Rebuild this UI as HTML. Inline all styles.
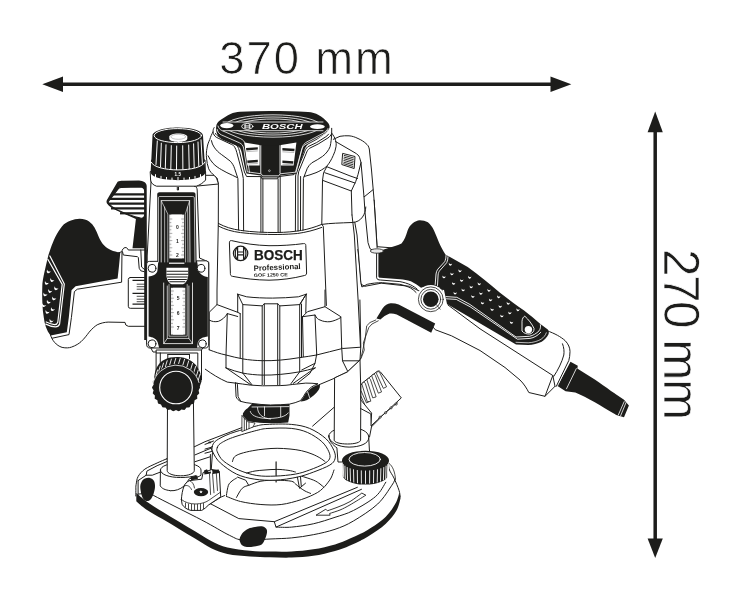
<!DOCTYPE html>
<html><head><meta charset="utf-8">
<style>
html,body{margin:0;padding:0;background:#fff;}
svg{display:block;}
text{font-family:"Liberation Sans",sans-serif;fill:#1d1d1b;}
.k{fill:#1d1d1b;stroke:none;}
.ks{fill:#1d1d1b;stroke:#1d1d1b;stroke-width:1;stroke-linejoin:round;}
.w{fill:#fff;stroke:#1d1d1b;stroke-width:1;stroke-linejoin:round;stroke-linecap:round;}
.wf{fill:#fff;stroke:none;}
.l{fill:none;stroke:#1d1d1b;stroke-width:1;stroke-linejoin:round;stroke-linecap:round;}
.l2{fill:none;stroke:#1d1d1b;stroke-width:1.6;stroke-linejoin:round;stroke-linecap:round;}
.wl{fill:none;stroke:#fff;stroke-width:1;stroke-linejoin:round;stroke-linecap:round;}
</style></head>
<body>
<svg width="739" height="600" viewBox="0 0 739 600">
<rect width="739" height="600" fill="#fff"/>
<g style="opacity:0.999">
<g id="dims">
<line x1="60" y1="84.3" x2="553" y2="84.3" stroke="#1d1d1b" stroke-width="3.5"/>
<polygon class="k" points="42.3,84.3 63,76.6 63,92"/>
<polygon class="k" points="571.3,84.3 550.5,76.6 550.5,92"/>
<line x1="655.2" y1="130" x2="655.2" y2="541" stroke="#1d1d1b" stroke-width="3.5"/>
<polygon class="k" points="655.2,111.5 647.6,132.3 662.8,132.3"/>
<polygon class="k" points="655.2,558 647.6,538.5 662.8,538.5"/>
<text x="219.3" y="74.3" font-size="45.4" textLength="173.6" lengthAdjust="spacing" style="stroke:#fff;stroke-width:0.7px">370 mm</text>
<text transform="translate(664.2,249) rotate(90)" font-size="49.4" textLength="171.2" lengthAdjust="spacing" style="stroke:#fff;stroke-width:0.7px">270 mm</text>
</g>

<g id="lefthandle">
<!-- white body of handle -->
<path class="w" d="M50.6,335.3 C52,340 56,345.5 62.1,347.4 C66,348.2 69,348 71.5,347.1 C76,345.5 79,343.5 81,341.7 C84.5,338.5 87,335 89.1,332.2 C92,328.8 94.5,326.5 97.2,324.8 C101,323 104.5,322.3 108.1,322.1 L125,322.4 L125.8,325 L128.3,326.3 L146,326.3 L146,250 L128.3,250 C127.5,248 126.5,247.4 125,247.6 C123.5,247.8 122.3,249.5 121.7,251.7 L100,260 L60,290 Z"/>
<!-- black grip -->
<path class="k" d="M50.6,248.6 C52,244.5 53.5,241 55.3,237.1 C57.5,232.5 59.5,229.5 62.1,226.2 C64.5,223.5 67,222 70.2,220.8 C73.5,219.5 76.5,218.8 79.7,218.8 C83.5,218.9 86.5,219.8 89.1,221.5 C91.5,223.3 93.2,225.3 94.5,227.6 C96.2,230.5 97.4,233.5 98.6,236.4 C100,239.8 101.8,242.8 104,245.2 C106,247.3 108.2,248.8 110.8,249.9 C113.8,251.2 117,252 120.3,252.6 L119,266 L117.6,278.6 L75.6,286.2 L71.5,290.3 L68.8,317.4 L66.8,332.2 L50.6,335.6 C48.5,333 47,330 45.8,326.8 C44.8,323.5 44.2,320.5 43.8,317.4 C43,313 42.6,308.5 42.4,303.8 C42.1,297 42.1,290.5 42.4,283.5 C42.7,280.5 43.2,277.8 43.8,275 C45.2,268.5 46.8,261.5 48.5,254.7 Z"/>
<!-- outer white outline -->
<path class="l" d="M52.2,338.2 L69,334.6 L71.4,317.6 L74.4,291.6 L77.3,289.2 L121.6,282.2 L122,252"/>
<path class="l" d="M122.5,251.7 L123.3,255 L137.5,256.7 L138.3,257.5 L139.2,268.3 L140.8,270.8 L144.2,271.7 M140.8,250 L141.6,267 L144.5,269.5"/>
<rect class="w" x="128.3" y="277.5" width="18" height="30.8" rx="2"/>
<path d="M132.5,280.3H146M132.5,293.3H146M132.5,304.2H146" stroke="#1d1d1b" stroke-width="1.3" fill="none"/>
<path d="M136.7,284.2H146M136.7,286.7H146M136.7,289.2H146M136.7,296.3H146M136.7,299.2H146M136.7,301.7H146" stroke="#1d1d1b" stroke-width="0.8" fill="none"/>
<!-- pad border double line -->
<path class="wl" style="stroke-width:1.2" d="M49.9,256 L64.3,284 L59.6,324 C58.8,326 57,326.9 55.3,326.8 C52,326.7 48.5,325.5 45.8,324.1"/>
<path class="wl" style="stroke-width:1.2" d="M47.9,259.5 L62.2,284.4 L57.8,322.3 C57.2,324 56,324.6 54.6,324.6 C52,324.4 49,323.4 46.2,322"/>
<g fill="#fff"><path transform="translate(48.5,271.4) rotate(25) scale(1.3)" d="M-1.7,-0.9 Q0,0.9 1.7,-0.9 Q1.3,1.5 0,1.5 Q-1.3,1.5 -1.7,-0.9 Z"/><path transform="translate(51.9,280.1) rotate(25) scale(1.3)" d="M-1.7,-0.9 Q0,0.9 1.7,-0.9 Q1.3,1.5 0,1.5 Q-1.3,1.5 -1.7,-0.9 Z"/><path transform="translate(46.5,282.9) rotate(25) scale(1.3)" d="M-1.7,-0.9 Q0,0.9 1.7,-0.9 Q1.3,1.5 0,1.5 Q-1.3,1.5 -1.7,-0.9 Z"/><path transform="translate(56.0,288.3) rotate(25) scale(1.3)" d="M-1.7,-0.9 Q0,0.9 1.7,-0.9 Q1.3,1.5 0,1.5 Q-1.3,1.5 -1.7,-0.9 Z"/><path transform="translate(49.9,291.0) rotate(25) scale(1.3)" d="M-1.7,-0.9 Q0,0.9 1.7,-0.9 Q1.3,1.5 0,1.5 Q-1.3,1.5 -1.7,-0.9 Z"/><path transform="translate(45.1,294.4) rotate(25) scale(1.3)" d="M-1.7,-0.9 Q0,0.9 1.7,-0.9 Q1.3,1.5 0,1.5 Q-1.3,1.5 -1.7,-0.9 Z"/><path transform="translate(53.9,298.4) rotate(25) scale(1.3)" d="M-1.7,-0.9 Q0,0.9 1.7,-0.9 Q1.3,1.5 0,1.5 Q-1.3,1.5 -1.7,-0.9 Z"/><path transform="translate(48.5,301.8) rotate(25) scale(1.3)" d="M-1.7,-0.9 Q0,0.9 1.7,-0.9 Q1.3,1.5 0,1.5 Q-1.3,1.5 -1.7,-0.9 Z"/><path transform="translate(43.8,305.2) rotate(25) scale(1.3)" d="M-1.7,-0.9 Q0,0.9 1.7,-0.9 Q1.3,1.5 0,1.5 Q-1.3,1.5 -1.7,-0.9 Z"/><path transform="translate(52.6,309.2) rotate(25) scale(1.3)" d="M-1.7,-0.9 Q0,0.9 1.7,-0.9 Q1.3,1.5 0,1.5 Q-1.3,1.5 -1.7,-0.9 Z"/><path transform="translate(47.2,311.9) rotate(25) scale(1.3)" d="M-1.7,-0.9 Q0,0.9 1.7,-0.9 Q1.3,1.5 0,1.5 Q-1.3,1.5 -1.7,-0.9 Z"/><path transform="translate(51.2,320.7) rotate(25) scale(1.3)" d="M-1.7,-0.9 Q0,0.9 1.7,-0.9 Q1.3,1.5 0,1.5 Q-1.3,1.5 -1.7,-0.9 Z"/></g>
</g>

<g id="righthandle">
<!-- cable boot -->
<path class="k" d="M557.5,386.1 L570.5,361.8 L577.8,365.8 L577.3,368.6 C583,372 589,376 594.8,379.6 C600,383 606,387.5 611,391 L624,399.7 L628.9,405.6 L624,417.3 L616.9,415.3 C609,411 601,406 594.8,402.3 C588,398.5 581,395 575.3,392.6 L565.6,391.3 Z"/>
<path class="wl" style="stroke-width:0.8" d="M576.3,368.6 L566.5,388.8 M624.2,401.6 L618.3,415 M626,402.6 L620.6,415.8"/>
<!-- white handle body -->
<path class="wf" d="M421.8,288.3 L430,310 L435.2,329.7 L451.5,335.8 L480,351.5 L500.3,365.2 L520.6,379.5 C525,383 527.5,387 529.7,391.6 L545,395.7 L559.2,381.5 L557.1,387.7 L566.5,368 L570.3,355.1 C570.8,351 570.3,346.5 569.3,342.9 C566,338 558,333.5 547,330.7 L500,300 Z"/>
<path class="l" d="M433.5,327.5 L435.2,329.7 L451.5,335.8 L480,350.5 L505,367.5 L520,380 C524,384 526.5,388 528.8,392.5 L545,396.3 L555,386.3 M547,330.7 C555,333.5 561,337 565,340.5 C568.5,344 570,348 570,351.5 C570,355 569.5,358 568.8,360.5 L556.3,386.3"/>
<path class="l" d="M562.5,343.8 C564,347.5 564.3,351.5 563.8,355 C562,362 558,370 553.8,376.3"/>
<path class="l" d="M545,396.3 L552.8,375.5 L480,328.8 L448,305 M552.8,375.5 L555,386.3"/>
<!-- neck / white part between body and grip -->
<path class="w" d="M354,215 L360.9,284.2 L364.9,286.3 L381.2,283.2 L409.6,286.3 L419.8,291.3 L440,300 L446,270 L420,250 L377.1,246.7 L374.1,200 L362.9,200 Z"/>
<!-- black blob -->
<path class="k" d="M380,250.7 C383,249.6 386,248.6 389.3,247.7 C394,246.6 398,245.5 401.5,243.6 C404.5,240 406,235.5 407.6,230.4 C408.8,227.5 410.5,225 412.7,223.3 C415,221.5 417.3,220.5 419.8,220.3 C422.8,220.3 425.5,221 427.9,222.3 C430.5,224.5 432.5,227.3 434,230.4 C435.8,234.5 437.4,238.5 439,242.6 C441,247 443,251 445.6,254.8 L450,257 L467.7,267.1 C479,275.5 490,284 500,292.8 C509,300 517,305.5 524.1,310.6 C530,315 535.5,320 540.4,324.1 L547.8,329.5 C549,331 549,333 548.5,334.3 C547,337.5 544.5,340 541.7,341.7 C537.5,343.8 533,344.8 528.2,345.1 L516,344.4 L470,317.4 L447,304 L444,290 L425,287 L421,287.8 C418,285.5 414.5,283 410.8,281.3 C407,280.2 404,279.6 400,279.2 L380.4,277.8 C379,277.6 378.4,277 378.4,276.2 L378.4,253.4 Z"/>
<!-- pivot -->
<circle cx="430.8" cy="299.3" r="14.3" fill="#fff"/>
<circle class="l" cx="430.8" cy="299.3" r="12.4" style="stroke-width:0.8"/>
<circle class="l" cx="430.8" cy="299.3" r="9.9" style="stroke-width:0.8"/>
<circle class="k" cx="430.8" cy="299.3" r="7.8"/>
<path class="l" style="stroke-width:0.7" d="M436.5,304.8 L440.2,309.2"/>
<!-- double white line between blob and pad -->
<path class="wl" style="stroke-width:0.9" d="M446,255.6 C446,258 445.5,260 444.7,261.7 L437.9,269.1 C436.8,270.5 436.3,272 436,274 L435.2,284.5"/>
<path class="wl" style="stroke-width:0.9" d="M448,256.8 C448,259 447.5,261 446.7,262.7 L440,270.3 C438.8,271.7 438.3,273 438.1,275 L437.5,285.5"/>
<!-- white lines under pad -->
<path class="wl" style="stroke-width:0.9" d="M446,296.6 L456.8,297.3 L470,304.5 L516,337 L529.5,336.3 C533,335.5 536.5,333.5 539,330.9 C540.5,328.8 540.8,326.8 540.4,324.8"/>
<path class="wl" style="stroke-width:0.9" d="M446.5,298.8 L456.2,299.4 L470,306.7 L517.4,339.2 L530,338.4 C534,337.8 538,335.5 540.8,332.3"/>
<path class="wl" style="stroke-width:0.7" d="M516,342.3 L528.2,342.8 C533,342.6 537.5,341.3 541,339.3 C543.8,337.4 545.6,335.2 546.3,332.8"/>
<!-- trigger -->
<path class="k" d="M524.8,316.2 C528.5,319.5 532,324 534,328.4 C534.3,331 532.8,333.2 530,334 C526.5,334.3 523.8,333.3 522,331 L522,321.2 C522.3,318.5 523.3,316.8 524.8,316.2 Z" style="stroke:#fff;stroke-width:0.9"/>
<circle class="wf" cx="528.4" cy="329.6" r="3.7"/>
<!-- crescents -->
<g fill="#fff">
<path transform="translate(450.3,264.1) rotate(10) scale(1.05)" d="M-1.7,-0.9 Q0,0.9 1.7,-0.9 Q1.3,1.5 0,1.5 Q-1.3,1.5 -1.7,-0.9 Z"/>
<path transform="translate(459.9,270.6) rotate(10) scale(1.05)" d="M-1.7,-0.9 Q0,0.9 1.7,-0.9 Q1.3,1.5 0,1.5 Q-1.3,1.5 -1.7,-0.9 Z"/>
<path transform="translate(469.6,277.1) rotate(10) scale(1.05)" d="M-1.7,-0.9 Q0,0.9 1.7,-0.9 Q1.3,1.5 0,1.5 Q-1.3,1.5 -1.7,-0.9 Z"/>
<path transform="translate(479.2,283.6) rotate(10) scale(1.05)" d="M-1.7,-0.9 Q0,0.9 1.7,-0.9 Q1.3,1.5 0,1.5 Q-1.3,1.5 -1.7,-0.9 Z"/>
<path transform="translate(488.9,290.1) rotate(10) scale(1.05)" d="M-1.7,-0.9 Q0,0.9 1.7,-0.9 Q1.3,1.5 0,1.5 Q-1.3,1.5 -1.7,-0.9 Z"/>
<path transform="translate(498.6,296.6) rotate(10) scale(1.05)" d="M-1.7,-0.9 Q0,0.9 1.7,-0.9 Q1.3,1.5 0,1.5 Q-1.3,1.5 -1.7,-0.9 Z"/>
<path transform="translate(508.2,303.1) rotate(10) scale(1.05)" d="M-1.7,-0.9 Q0,0.9 1.7,-0.9 Q1.3,1.5 0,1.5 Q-1.3,1.5 -1.7,-0.9 Z"/>
<path transform="translate(517.9,309.6) rotate(10) scale(1.05)" d="M-1.7,-0.9 Q0,0.9 1.7,-0.9 Q1.3,1.5 0,1.5 Q-1.3,1.5 -1.7,-0.9 Z"/>
<path transform="translate(451.9,273.7) rotate(10) scale(1.05)" d="M-1.7,-0.9 Q0,0.9 1.7,-0.9 Q1.3,1.5 0,1.5 Q-1.3,1.5 -1.7,-0.9 Z"/>
<path transform="translate(461.6,280.2) rotate(10) scale(1.05)" d="M-1.7,-0.9 Q0,0.9 1.7,-0.9 Q1.3,1.5 0,1.5 Q-1.3,1.5 -1.7,-0.9 Z"/>
<path transform="translate(471.2,286.7) rotate(10) scale(1.05)" d="M-1.7,-0.9 Q0,0.9 1.7,-0.9 Q1.3,1.5 0,1.5 Q-1.3,1.5 -1.7,-0.9 Z"/>
<path transform="translate(480.9,293.2) rotate(10) scale(1.05)" d="M-1.7,-0.9 Q0,0.9 1.7,-0.9 Q1.3,1.5 0,1.5 Q-1.3,1.5 -1.7,-0.9 Z"/>
<path transform="translate(490.5,299.7) rotate(10) scale(1.05)" d="M-1.7,-0.9 Q0,0.9 1.7,-0.9 Q1.3,1.5 0,1.5 Q-1.3,1.5 -1.7,-0.9 Z"/>
<path transform="translate(500.2,306.2) rotate(10) scale(1.05)" d="M-1.7,-0.9 Q0,0.9 1.7,-0.9 Q1.3,1.5 0,1.5 Q-1.3,1.5 -1.7,-0.9 Z"/>
<path transform="translate(509.8,312.7) rotate(10) scale(1.05)" d="M-1.7,-0.9 Q0,0.9 1.7,-0.9 Q1.3,1.5 0,1.5 Q-1.3,1.5 -1.7,-0.9 Z"/>
<path transform="translate(443.9,276.8) rotate(10) scale(1.05)" d="M-1.7,-0.9 Q0,0.9 1.7,-0.9 Q1.3,1.5 0,1.5 Q-1.3,1.5 -1.7,-0.9 Z"/>
<path transform="translate(453.5,283.3) rotate(10) scale(1.05)" d="M-1.7,-0.9 Q0,0.9 1.7,-0.9 Q1.3,1.5 0,1.5 Q-1.3,1.5 -1.7,-0.9 Z"/>
<path transform="translate(463.1,289.8) rotate(10) scale(1.05)" d="M-1.7,-0.9 Q0,0.9 1.7,-0.9 Q1.3,1.5 0,1.5 Q-1.3,1.5 -1.7,-0.9 Z"/>
<path transform="translate(472.8,296.3) rotate(10) scale(1.05)" d="M-1.7,-0.9 Q0,0.9 1.7,-0.9 Q1.3,1.5 0,1.5 Q-1.3,1.5 -1.7,-0.9 Z"/>
<path transform="translate(482.4,302.8) rotate(10) scale(1.05)" d="M-1.7,-0.9 Q0,0.9 1.7,-0.9 Q1.3,1.5 0,1.5 Q-1.3,1.5 -1.7,-0.9 Z"/>
<path transform="translate(492.1,309.3) rotate(10) scale(1.05)" d="M-1.7,-0.9 Q0,0.9 1.7,-0.9 Q1.3,1.5 0,1.5 Q-1.3,1.5 -1.7,-0.9 Z"/>
<path transform="translate(501.8,315.8) rotate(10) scale(1.05)" d="M-1.7,-0.9 Q0,0.9 1.7,-0.9 Q1.3,1.5 0,1.5 Q-1.3,1.5 -1.7,-0.9 Z"/>
<path transform="translate(511.4,322.3) rotate(10) scale(1.05)" d="M-1.7,-0.9 Q0,0.9 1.7,-0.9 Q1.3,1.5 0,1.5 Q-1.3,1.5 -1.7,-0.9 Z"/>
<path transform="translate(455.1,292.9) rotate(10) scale(1.05)" d="M-1.7,-0.9 Q0,0.9 1.7,-0.9 Q1.3,1.5 0,1.5 Q-1.3,1.5 -1.7,-0.9 Z"/>
</g>
<!-- cord (black bent) -->
<path class="k" d="M376.4,318.6 L382.5,308.4 C385,305 387.5,303.6 390.6,303.3 C393.5,303.2 396,303.6 398.7,304.4 L435.2,323.6 L431.2,332.8 L396.7,314.5 C394,313.5 392,313.2 389.6,313.5 C386,314.8 383,317 380.4,319.6 Z"/>
<path class="l" style="stroke-width:0.8" d="M375.8,320 L370,322.5 L366.7,325.8 L365,340 L361.7,355 L360,360 M378.3,320.8 L372,324 L368.8,327.5 L363.3,343 L364.3,350 L361,358.5"/>
</g>

<g id="body">
<!-- main silhouette white fill -->
<path class="wf" d="M216.7,127.7 C211,134 207.3,140 206.6,146 C206.3,152 207,157 209,163 C211,169 214,174 217,179.5 L218.3,223.4 L217,290 L217,304.6 L209.2,312.3 L209.2,349.8 L205.3,369.2 L227.3,382.1 L229.9,391.2 L239.6,402 L250,404.5 L291,404.5 L301,401.5 L311.2,391.3 L319.1,384.7 L334.6,378.2 L347.5,371.8 L360.5,357.6 L360.5,347.2 L360.9,283.2 L357.3,249 L377,247.7 L373.4,197.6 L371.5,170 L369.3,149 C368.5,146 368,145.5 367,144.5 C364,141.5 361,139.8 358,138.5 C355,137 352,136 349,135.8 C346,135.6 343,135.8 340,136.3 L333.3,139.3 L331.8,134 L329.3,128.3 Z"/>
<path class="l" d="M213,131.9 C211.5,134.5 210.5,137 209.8,139.5 C208.3,142.5 207.4,145.3 207,148.2 C206.3,151.5 206.2,154.7 206.5,157.9 C206.8,161.8 207.5,165.4 208.7,168.8 C210,171.5 211.8,173.6 214.1,175.3 L217.3,178.5 L218.4,185 L218.3,223.4 L217,290 L217,304.6 L209.2,312.3 L209.2,349.8"/>
<path class="l" d="M333.3,139.3 L340,136.3 C343,135.8 346,135.6 349,135.8 C352,136 355,137 358,138.5 C361,139.8 364,141.5 367,144.5 C368,145.5 368.5,146 369.3,149 L371.5,170 L374.1,200 L377.1,247.7"/>
<path class="l" d="M352,215 L354.3,235 L358.1,300 L360.5,347.2"/>
<path class="l" d="M321.8,224.4 L323.3,226.4 L326.4,305.5"/>

<!-- left shoulder lines -->
<path class="l" d="M214.1,127.6 C213.2,129 213,130.5 213,131.9 C213.3,134.3 214.5,136 216.3,137.3 L231.4,144.4 C233,145 234,145.9 234.7,147.1 C235.7,148.8 236.3,150.5 236.8,152.5 L242.3,173.1 L243.3,178.5 L243.6,230.8"/>
<path class="l" d="M215.5,133.5 C216,134.6 216.6,135.2 217.3,135.7 L232.5,142.8 C234.8,143.6 236.3,144.6 237.4,146 C238.4,147.6 239,149.3 239.5,151.4 L244.4,172 L246.6,176.5 L260.9,176.6 L262,178.8 L277.3,178.8 L278.4,176.6 L294,174.6 L296.5,171.6"/>
<path class="l" d="M211.4,140.6 C211.8,143 212.8,145.2 214.1,147.1 C216,150 218.5,152.5 221.7,154.7 C224.5,156.8 227.5,158.9 230.3,161.2 C232.3,163.3 233.8,165.8 234.7,168.8 L237.9,178.5 L238.6,229.8"/>
<path class="l" d="M208.1,155.8 C209.3,158.5 211,161 213,163.3 C215.5,166 218.5,168 221.7,169.8 C225,171.8 228.7,173.6 232.5,175.3 L236.8,177.4"/>
<path class="l" d="M260.9,176.6 L260.9,232 M262.9,178.8 L262.9,232 M278.1,178.8 L278.1,232.5 M280.2,176.6 L280.2,232.5"/>
<!-- right shoulder -->
<path class="l" d="M331.7,128.3 L331.7,133.1 C331,135.5 329.5,137 327.9,138 L318.2,144 L309.5,148.3 C307.8,149.8 306.8,151.5 306.3,153.2 L298.7,171.6 L298,176 L298,231"/>
<path class="l" d="M328.5,134.2 C327.5,135.6 326.3,136.6 325,137.3 L316.5,142.6 L307.9,146.7 C306,148.3 304.8,150.5 304.1,153.2 L296.5,171.6 L295.6,176 L295.4,231"/>
<path class="l" d="M331.7,133.1 C333.5,135.5 335,138 335.5,140.2 C336.3,142.5 336.3,144.5 336,146.7 C335.5,150 334.5,152.8 333.3,155.3 C331.5,159.5 329.5,163 326.8,166.2 C323.5,169 320,171 316,172.7 C312,174.3 308,175.5 304.1,176.5 L303.4,178.5 L303,230.2"/>
<path class="l" d="M331.7,133.7 C331.5,138.5 331,142.5 330.1,146.7 C328.5,150.5 326,153.8 322.5,156.4 C319,158.8 315.5,160.9 311.7,162.9 C309.8,164.5 308.3,166.3 307.3,168.3 L304.1,176.5"/>
<path class="l" d="M300.6,176.5 L300.5,230.4"/>
<!-- band curves -->
<path class="l" d="M218.3,223.4 C225,227 232,229.2 240.6,230.4 C252,232 264,232.6 277.1,232.5 C286,232.4 294,231.6 301.5,230.4 C309,229 315,227 321.8,224.4 C330,223.2 340,223 352,222.5 C357,222.2 360,220.5 362.5,217 C364.5,214 365.6,211 365.8,207"/>
<path class="l" d="M218.3,226 C225,229.5 232,231.5 240.6,232.6 C252,234 264,234.6 277.1,234.5 C285,234.4 292,234 297.4,233.5 C306,232.3 314,230.3 321.8,227.4"/>
<!-- right box -->
<path class="l" d="M335.5,141.5 L355,152.8 C357.5,154.3 358.8,155.5 359.5,157.3 L361,162.5 L358,174.5 L355.8,181.3 L351.3,191 L352,215"/>
<path class="l" d="M361,162.5 L364,197 L373,189.7 M364,197 L365,212.2 L368,242.6 L370,248.7 L375,251.5"/>
<path class="l" d="M326.8,166.7 L350,175.9 L357.5,178.5 M324.7,172.7 L350,181.3 L355,183 M322.5,180.3 L351.3,191 M326.8,166.7 L323.6,172.7 L322.5,180.3 L321.8,224.4"/>
<!-- vent -->
<path class="w" d="M343,153.5 L355,156.5 L354.2,168.5 L342.2,164.7 Z"/>
<g stroke="#1d1d1b" stroke-width="0.9">
<path d="M343.8,155.3 L353.8,158 M343.7,157 L353.7,159.7 M343.6,158.7 L353.6,161.4 M343.5,160.4 L353.5,163.1 M343.4,162.1 L353.4,164.8 M343.3,163.6 L353.3,166.5"/>
</g>
<!-- label -->
<path class="w" d="M229.4,242.5 C229.4,241 230.3,240.4 231.5,240.6 C244,243.6 256,245.3 269,245.7 C281,245.8 293,245 303.5,243.6 C305,243.4 305.8,244 305.8,245.5 L306.6,273 C306.6,274.5 305.8,275.3 304.5,275.5 C293,278.5 281,280 269,280.2 C256,280 244,278.6 232.3,276.3 C231,276 230.4,275.3 230.4,274 Z"/>
<circle class="l" cx="240.6" cy="253.4" r="7.2" style="stroke-width:1.2"/>
<path class="l" style="stroke-width:1.2" d="M237.6,247.6 C234.5,249.5 234.5,257.3 237.6,259.2 Z M243.6,247.6 C246.7,249.5 246.7,257.3 243.6,259.2 Z M237.6,252 L243.6,252 M237.6,254.8 L243.6,254.8"/>
<text x="253.9" y="260.1" font-size="14" font-weight="bold" textLength="48.8" lengthAdjust="spacingAndGlyphs" style="stroke:#1d1d1b;stroke-width:0.25">BOSCH</text>
<text x="253.8" y="270.9" font-size="7.8" font-weight="bold" textLength="47" lengthAdjust="spacingAndGlyphs" transform="rotate(-2.5 253.8 270.9)">Professional</text>
<text x="253.8" y="276.9" font-size="4.8" font-weight="bold" textLength="34" lengthAdjust="spacingAndGlyphs" transform="rotate(-1 253.8 276.9)">GOF 1250 CE</text>
<!-- lower housing -->
<path class="l" d="M237.7,294.2 L246.7,296.8 C255,297.8 264,298.1 272.6,298.1 C281,298 290,297.6 298.4,296.8 L306.2,294.2"/>
<path class="l" d="M237.7,294.2 L242.8,304.6 L262.2,305.9 L264.3,303.8 L277.7,303.8 L279.8,305.9 L299.7,304.6 L306.2,294.2"/>
<path class="l" d="M237.7,294.2 L237.7,312.3 L217,304.6 M237.7,312.3 L240.2,313.6 M227.3,313.6 L237.7,316.5"/>
<path class="l" d="M209.2,320 C212,321.8 215,322 218.3,321.4 C222,320 225.5,317 227.3,313.6 L226,355 L226,367.9"/>
<path class="l" d="M209.2,349.8 C215,352 220,353.8 226,355 C231.5,356.5 237,357.8 242.8,358.9 C249,360 255.5,360.5 262.2,360.7 C268,360.8 274,360.6 280.3,360.1 C287,359.5 293,358.7 299.7,357.6 C305.5,356.8 311,356 316.5,355 C325,353 334,350.5 342.4,348.5 L360.5,347.2"/>
<path class="l" d="M242.8,304.6 L242.8,358.9 L242.8,373.1 M240.2,313.6 L240.2,358 M262.2,305.9 L262.2,384.7 M264.3,303.8 L264.3,384.7 M277.7,303.8 L277.7,384.7 M279.8,305.9 L279.8,384.7 M299.7,304.6 L299.7,357.6 L299.7,371.8 M301.5,304 L301.5,357.3"/>
<path class="l" d="M226,367.9 C231.5,370 237,371.8 242.8,373.1 C249,374.3 255.5,374.9 262.2,375.1 C268,375.2 274,375 280.3,374.4 C287,373.8 293,373 299.7,371.8 C305,370.8 310,369.5 315.2,367.9"/>
<path class="l" d="M226,367.9 L250.6,384.7 M242.8,373.1 L251.9,384.7 M315.2,367.9 L293.2,383.4 M299.7,371.8 L291,383.6"/>
<path class="l" d="M306.2,294.2 L305.8,312.5 M306.2,294.2 L299.7,304.6"/>
<path class="l" d="M302.5,316.7 L307.5,311.7 L325,306.7 L325,290 M325,306.7 L340.8,316.7 L341.7,347.5"/>
<path class="l" d="M302.5,316.7 L303.3,356.7 M302.5,316.7 L315,315 C316.5,318 318,319.5 320,320 C323,321.5 326.5,322 330,321.7 C334,321 337.5,319.5 340.8,317.5 M315,315 L316.7,354.2"/>
<path class="l" d="M316.7,354.2 L315,363.3 L301.7,370 M315,363.3 L310,373.3 L297.5,383.3"/>
<path class="l" d="M341.7,347.5 L342.5,360.8 L348.3,372.5 M342.5,360.8 L359.2,360.8"/>
<path class="l" d="M205.3,369.2 C212,374 219,378.5 227.3,382.1 L237.7,383.4"/>
<path class="l" d="M359.9,300 L360.8,346.7 L360,360 L347.5,371.8 L334.6,378.2 L319.1,384.7"/>
</g>

<g id="cap">
<path class="k" d="M216.6,124.6 C217.5,122.5 219,121 220.8,119.8 C224,117.5 227,115.6 230.5,114 C233.5,112.6 236.5,112 240,111.8 C250,111.3 260,111.1 270,111 C283,111 296,111.3 308,112 C312,112.3 315.5,113.3 318.5,115 C322,117 325,119.5 327.5,122.3 C328.8,123.8 329.6,125.2 329.6,126.8 C329.6,127.5 329.5,128 329.3,128.3 C328.5,130 327.5,131.5 326,133 C323,135.5 320,137.8 316.7,139.7 L308,144.5 C306,146 305,148 304.4,150.5 L300.7,161 L298.4,168.5 L297,173.6 L280.5,175.4 L279.3,177.4 L262,177.4 L260.8,175.4 L246.5,173.4 L245,168.5 L241.6,152 C241,149.5 240,147.5 237.8,146.3 L222,139.5 C219,138 217,135 216.2,131 C216,128 216.1,126 216.6,124.6 Z"/>
<!-- white highlight lines on rim -->
<path class="wl" style="stroke-width:0.8" d="M218,126 C218.5,128 219.8,129.5 221.8,130.5 L240.5,138.6 C243,139.7 244.6,141.5 245.3,144 L249.5,172.5"/>
<path class="wl" style="stroke-width:0.8" d="M328,128.5 C327,130.3 325.5,131.7 323.5,133 L307,141.8 C304.5,143.2 303,145 302.3,147.5 L296,172.5"/>
<path class="wl" style="stroke-width:0.8" d="M217.2,129.5 C217.7,132 219.3,134 221.6,135 L239.5,142.8 C241.8,143.9 243,145.5 243.6,148 L247.3,171.8 L261.3,173.8 L262.5,175.8 L278.8,175.8 L280,173.8 L295.5,172.2 L301.5,150 C302.2,147.5 303.6,145.5 306,144.2 L322.5,135.3 C325,133.8 326.8,132 328,130"/>
<!-- top surface decorative ellipses -->
<g class="wl" style="stroke-width:0.8">
<ellipse cx="273" cy="126" rx="48" ry="11.2"/>
<ellipse cx="273" cy="126" rx="41" ry="9"/>
<ellipse cx="273" cy="126" rx="34" ry="7"/>
</g>
<!-- banner -->
<path class="k" d="M223,122.3 L323,122.3 C326,123.5 326,129 323,130.4 L223,130.4 C220,129 220,123.5 223,122.3 Z"/>
<path class="wl" style="stroke-width:0.8" d="M223,122 L323,122 M223,130.7 L323,130.7"/>
<ellipse class="wf" cx="226.8" cy="125.6" rx="6.6" ry="2.7"/>
<ellipse class="wf" cx="317.4" cy="126.6" rx="7.4" ry="2.4"/>
<ellipse class="wl" cx="247.3" cy="126.4" rx="5.6" ry="2.9" style="stroke-width:0.9"/>
<path class="wl" style="stroke-width:0.8" d="M244.3,125.8 h6 M244.3,127.2 h6 M245.2,124.4 v4 M249.4,124.4 v4"/>
<text x="262" y="129.3" font-size="7" font-weight="bold" font-style="italic" textLength="40.5" lengthAdjust="spacingAndGlyphs" style="fill:#fff">BOSCH</text>
<!-- vents -->
<path class="wf" d="M244.3,142.6 L259.6,145 L259.6,165.4 L247.4,165.4 Z M280.9,145 L296.4,142.6 L293.6,165.4 L280.9,165.4 Z"/>
<path class="k" d="M246,147.9 L257.8,147.2 L257.8,149.6 L246.3,150.4 Z M247.2,160.4 L257.8,159.8 L257.8,162.3 L247.5,162.9 Z M282.4,148 L294.6,148.8 L294.3,151.3 L282.4,150.5 Z M282.4,160.6 L293.4,161.2 L293.1,163.7 L282.4,163.1 Z"/>
<path d="M246.4,151.6 L257.8,150.9 M247.6,164 L257.8,163.5 M282.4,151.8 L294.2,152.5 M282.4,164.3 L293,164.8" stroke="#888" stroke-width="0.6" fill="none"/>
<path class="wl" style="stroke-width:0.9" d="M260.8,145.7 L260.8,173 M280,145.7 L280,173"/>
<path class="k" d="M261.9,145.7 L279.1,145.7 L279.1,172.5 L261.9,172.5 Z"/>
<circle cx="269.4" cy="170.7" r="0.9" fill="none" stroke="#fff" stroke-width="0.5"/>
</g>

<g id="neck">
<path class="l" d="M354.8,222.3 L357,235 L360.8,282.7 L361.9,287 L367.3,284.3 C372,283.2 377,282.7 382.5,282.7 L399.9,284.3 C404,285.2 407.5,286.5 410.7,288.1 C413,289.5 414.8,291 416.1,292.5"/>
<path class="l" d="M376.6,252.3 L376.6,277.8 C377,279.5 378.5,280 380.4,280 L399.9,281.6 C404,282.4 407.5,283.5 410.7,284.9 C413.5,286.3 415.5,287.7 417.2,289.2"/>
<ellipse cx="376.9" cy="251" rx="6.6" ry="2.2" fill="#e8e8e8" stroke="#1d1d1b" stroke-width="0.8"/>
</g>

<g id="lever">
<!-- lever arm + paddle (black) -->
<path class="k" d="M117.6,181.8 C119,181 121,180.8 123,180.7 L139,180.4 C143,180.5 146.7,182.5 146.7,186 L147,340 L144.2,340 L144.2,248.3 L132.5,248.3 L135.9,219 L116.2,210.2 C112,208.5 109,206.5 107,203.5 C106.3,202.3 106.4,201.2 106.9,200 Z"/>
<!-- striped inner -->
<path class="wf" d="M118.3,188.6 C119.2,187.6 120,187.4 121.5,187.3 L140,186.9 C143,187 144.7,188.5 144.7,191 L144.7,214.5 C144.7,217 143,218.6 140.6,218.2 C133,216.5 125,213.5 117.5,210 C113.5,208 110.5,206 108.4,203.2 C108,202.5 108.1,202 108.4,201.3 Z"/>
<g stroke="#1d1d1b" stroke-width="2.2">
<line x1="113" y1="194.3" x2="146" y2="194.3"/>
<line x1="110" y1="198.9" x2="146" y2="198.9"/>
<line x1="108" y1="203.6" x2="146" y2="203.6"/>
<line x1="111" y1="208.4" x2="146" y2="208.4"/>
<line x1="120" y1="213.3" x2="146" y2="213.3"/>
</g>
<path class="l" style="stroke-width:1.2" d="M118.3,188.6 C119.2,187.6 120,187.4 121.5,187.3 L140,186.9 C143,187 144.7,188.5 144.7,191 L144.7,214.5 C144.7,217 143,218.6 140.6,218.2 C133,216.5 125,213.5 117.5,210 C113.5,208 110.5,206 108.4,203.2 C108,202.5 108.1,202 108.4,201.3 Z"/>
</g>

<g id="column">
<!-- white housing behind column -->
<path class="w" d="M151.2,178 L147.2,256 L147.2,262 L146.6,340 L153,352 L200,352 L208.7,340 L208.7,262 L199.5,258 L197.2,190 C197,187.5 196,186.2 194,186.2 L197.5,186 L218.5,184 L216.5,178 L214,175.3 L205.5,175.3 L205,160 L152,160 Z"/>
<!-- lower plate outline -->
<path class="w" d="M146.6,264.5 C146.6,262.5 147.6,261.4 149.5,261.4 L205.5,260.8 C207.6,260.8 208.7,262 208.7,264 L208.7,344 C208.7,346.5 207.5,348 205.5,348 L150,348 C147.8,348 146.6,346.8 146.6,344.5 Z"/>
<!-- black main frame upper -->
<path class="k" d="M157.2,194.5 C157.2,193 158.2,192.2 159.5,192.2 L193.2,192.2 C194.7,192.2 195.5,193 195.5,194.5 L196.6,262 L157.2,262 Z"/>
<!-- black lower plate region w/ concave corners -->
<path class="k" d="M158.3,261 L197,261 L198.6,270 C199.5,274 203,276.5 207.8,277 L207.8,336.4 C203,337 199.2,338.5 197.9,342 L197,348 L159.2,348 L157.6,342 C156.5,338.5 152.5,337 148.6,336.4 L148.6,276.5 C152.5,276 156.5,274.5 157.4,271 Z"/>
<!-- screws -->
<circle class="w" cx="152" cy="268.3" r="3.9"/>
<circle class="w" cx="201" cy="268.3" r="3.9"/>
<circle class="w" cx="152" cy="343.8" r="3.9"/>
<circle class="w" cx="202.3" cy="343.8" r="3.9"/>
<!-- white inner frame lines upper -->
<path class="wl" style="stroke-width:0.7" d="M158.4,262 L158.4,198 C158.4,196.9 159,196.5 160,196.5 L192.6,196.5 C193.7,196.5 194.3,197 194.3,198 L195,262"/>
<path class="wl" style="stroke-width:0.8" d="M161.2,262 L161.2,200.6 L189.6,200.6 L190,262"/>
<path class="wl" style="stroke-width:0.6" d="M161.2,200.6 L167.8,214 L167.8,262 M189.6,200.6 L185.3,214 L185.6,262 M164.6,207 L164.7,262 M187.6,207 L188,262"/>
<!-- upper scale window -->
<rect x="169.3" y="214.6" width="14.8" height="44" fill="#f4f4f4"/>
<rect x="171.3" y="214.6" width="10.8" height="44" fill="#fff"/>
<g stroke="#777" stroke-width="0.6">
<path d="M169.3,219h3M169.3,222.6h2M169.3,226.2h3M169.3,229.8h2M169.3,233.4h3M169.3,237h2M169.3,240.6h3M169.3,244.2h2M169.3,247.8h3M169.3,251.4h2M169.3,255h3"/>
<path d="M184.1,219h-3M184.1,222.6h-2M184.1,226.2h-3M184.1,229.8h-2M184.1,233.4h-3M184.1,237h-2M184.1,240.6h-3M184.1,244.2h-2M184.1,247.8h-3M184.1,251.4h-2M184.1,255h-3"/>
</g>
<g font-size="5" font-weight="bold" text-anchor="middle">
<text x="177.3" y="228.5">0</text><text x="177.3" y="243">1</text><text x="177.3" y="257">2</text>
</g>
<!-- slider indicator -->
<path class="wf" d="M166.4,267.8 L188.2,267.8 L188.2,276 C187.6,280 185.6,283.4 183,284.2 L171.6,284.2 C169,283.4 167,280 166.4,276 Z"/>
<rect class="k" x="169.3" y="258.6" width="14.8" height="3.4"/>
<rect class="wf" x="169" y="262.6" width="15.4" height="1.2"/>
<rect class="k" x="168" y="264.2" width="18.6" height="2.8"/>
<g stroke="#1d1d1b" stroke-width="1.1">
<path d="M166.4,271.2h21.8M166.4,274.2h21.8M166.8,277h21M167.8,279.5h19M169.4,281.8h15.8"/>
</g>
<!-- lower window frames -->
<path class="wl" style="stroke-width:0.8" d="M163.7,283 L163.7,343.6 L192.5,343.6 L192.5,283"/>
<path class="wl" style="stroke-width:0.7" d="M167.3,286 L167.3,338.4 L188.9,338.4 L188.9,286 M163.7,343.6 L167.3,338.4 M192.5,343.6 L188.9,338.4"/>
<path class="wl" style="stroke-width:0.6" d="M169,284.5 L169,336.2 L187.2,336.2 L187.2,284.5"/>
<rect x="170.9" y="287.8" width="14.4" height="46.8" fill="#f4f4f4"/>
<rect x="172.9" y="287.8" width="10.4" height="46.8" fill="#fff"/>
<g stroke="#777" stroke-width="0.6">
<path d="M170.9,291h3M170.9,294.6h2M170.9,298.2h3M170.9,301.8h2M170.9,305.4h3M170.9,309h2M170.9,312.6h3M170.9,316.2h2M170.9,319.8h3M170.9,323.4h2M170.9,327h3"/>
<path d="M185.3,291h-3M185.3,294.6h-2M185.3,298.2h-3M185.3,301.8h-2M185.3,305.4h-3M185.3,309h-2M185.3,312.6h-3M185.3,316.2h-2M185.3,319.8h-3M185.3,323.4h-2M185.3,327h-3"/>
</g>
<g font-size="5" font-weight="bold" text-anchor="middle">
<text x="178.1" y="300.4">5</text><text x="178.1" y="314.8">6</text><text x="178.1" y="329.6">7</text>
</g>
</g>

<g id="topknob">
<!-- housing below knob -->
<path class="w" d="M150.2,172 L150.6,180 C151,183 153,185 156.5,186.2 L196.2,186.2 C200,185 203,183 205.6,180 L205.6,172 Z"/>
<path class="l" d="M177.3,187.4 v2.6 h1.2 v-2.6"/>
<!-- knob black body -->
<path class="k" d="M152.5,135.7 C152.5,131 164,127.5 178,127.5 C192,127.5 203,131 203,135.7 L205.3,172.3 C205.3,177 193,180.2 178,180.2 C163,180.2 150.7,177 150.7,172.3 Z"/>
<!-- top ellipse white ring -->
<ellipse class="wl" cx="177.8" cy="135.6" rx="23.6" ry="7"/>
<!-- knurl lines -->
<g class="wl">
<path d="M157.3,141 L156,164.5 M161.3,143.2 L160.5,167 M166,144.8 L165.3,168.3 M171.3,145.6 L170.8,169.3 M176.7,146 L176.5,169.7 M182.7,145.7 L182.9,169.5 M188.7,145 L189.2,168.8 M193.6,143.8 L194.2,167.6 M198,142 L198.8,166 M201,139.8 L202.4,164"/>
</g>
<!-- lower knurl boundary -->
<path class="wl" d="M151.3,162.3 C153,167 165,169.9 178,169.9 C191,169.9 203,167 204.7,162.3"/>
<!-- ticks on lower band -->
<g class="wl">
<path d="M155.5,174.6v2.4M161,176.3v2M166.5,177.4v2M172,178v2M178,177.4v3M184,178v2M189.5,177.4v2M195,176.3v2M200.5,174.6v2.4"/>
</g>
<text x="177.8" y="176" font-size="4.6" font-weight="bold" text-anchor="middle" style="fill:#fff">1.5</text>
<!-- centre button -->
<path class="wf" d="M169.3,136.6 C169.3,134.8 173,133.4 178.3,133.4 C183.6,133.4 187.3,134.8 187.3,136.6 L187.3,138.6 C187.3,140.6 183.6,142 178.3,142 C173,142 169.3,140.6 169.3,138.6 Z"/>
<ellipse cx="178.3" cy="136.8" rx="7.4" ry="2.5" fill="#fff" stroke="#999" stroke-width="0.6"/>
</g>

<g id="base">
<path class="wf" d="M136.0,486.0 L138.1,476.5 L144.9,469.1 L157.1,463.0 L205.0,441.7 L242.2,427.5 L300.0,420.0 L334.0,407.0 L371.5,426.8 L378.9,419.4 L388.0,440.0 L389.0,470.0 L394.0,478.0 L399.0,490.0 L400.5,498.4 L396.5,510.6 L385.8,523.8 L367.6,536.8 L350.0,545.4 L335.0,550.9 L313.3,555.8 L291.7,557.6 L270.0,557.3 L250.0,556.5 L227.4,554.0 L211.2,548.3 L195.0,538.6 L178.7,528.8 L162.5,519.1 L146.2,509.4 L136.3,501.2 Z"/>
<path class="k" d="M136.3,493.1 C138.0,494.5 141.8,498.1 146.2,501.2 C150.6,504.3 157.1,508.4 162.5,511.8 C167.9,515.2 173.3,518.2 178.7,521.5 C184.1,524.8 189.6,528.0 195.0,531.3 C200.4,534.5 205.8,538.3 211.2,541.0 C216.6,543.7 220.9,545.9 227.4,547.5 C233.9,549.1 242.9,550.1 250.0,550.8 C257.1,551.5 263.1,551.5 270.0,551.6 C276.9,551.7 284.5,551.9 291.7,551.5 C298.9,551.1 306.1,550.5 313.3,549.3 C320.5,548.1 328.9,546.2 335.0,544.4 C341.1,542.6 344.6,540.9 350.0,538.5 C355.4,536.1 361.6,533.5 367.6,529.9 C373.6,526.3 381.1,521.3 385.8,516.7 C390.5,512.1 393.7,506.6 396.0,502.5 C398.3,498.4 398.8,494.0 399.4,492.3 L400.5,498.4 C399.8,500.4 398.9,506.4 396.5,510.6 C394.1,514.8 390.6,519.4 385.8,523.8 C381.0,528.2 373.6,533.2 367.6,536.8 C361.6,540.4 355.4,543.0 350.0,545.4 C344.6,547.8 341.1,549.2 335.0,550.9 C328.9,552.6 320.5,554.7 313.3,555.8 C306.1,556.9 298.9,557.4 291.7,557.6 C284.5,557.9 276.9,557.5 270.0,557.3 C263.1,557.1 257.1,557.0 250.0,556.5 C242.9,556.0 233.9,555.4 227.4,554.0 C220.9,552.6 216.6,550.9 211.2,548.3 C205.8,545.7 200.4,541.9 195.0,538.6 C189.6,535.4 184.1,532.0 178.7,528.8 C173.3,525.5 167.9,522.3 162.5,519.1 C157.1,515.9 150.6,512.4 146.2,509.4 C141.8,506.4 138.0,502.6 136.3,501.2 Z"/>
<path class="l" d="M135.8,496.0 C135.8,494.8 135.9,490.9 135.9,489.0 C135.9,487.1 135.7,486.8 136.1,484.7 C136.5,482.6 136.6,479.1 138.1,476.5 C139.6,473.9 141.7,471.4 144.9,469.1 C148.1,466.9 153.5,464.7 157.1,463.0 C160.7,461.3 164.9,459.6 166.5,458.9"/>
<path class="l" d="M166.5,458.9 L167.5,458.4 M194.3,446.8 L205,441.7 L242.2,427.5"/>
<path class="l" d="M388.5,464.0 C388.7,465.0 388.6,467.6 389.5,470.0 C390.4,472.4 392.4,474.7 394.0,478.1 C395.6,481.5 398.0,487.2 399.0,490.3 C400.0,493.4 400.0,495.9 400.2,497.0"/>
<path class="l" d="M138.1,480.6 L146.2,475.2 L146.9,471.1 L157.1,465.7 L167.0,461.5"/>
<path class="l" d="M146.2,475.2 L152.3,475.2 L161.1,471.8"/>
<path class="l" d="M276.0,527.1 C278.6,527.1 285.5,527.7 291.7,527.1 C297.9,526.5 306.1,525.4 313.3,523.8 C320.5,522.2 328.3,519.5 335.0,517.3 C341.7,515.1 346.6,514.0 353.4,510.5 C360.2,507.0 370.3,501.1 375.7,496.4 C381.1,491.7 384.1,484.6 385.8,482.2"/>
<path class="l" d="M152.3,492.8 C152.5,493.2 145.5,491.0 153.7,495.5 C161.9,500.0 189.0,513.4 201.7,520.0 C214.3,526.6 222.7,532.1 229.6,535.4 C236.5,538.7 236.3,539.4 243.0,540.0 C249.7,540.6 261.9,539.4 270.0,539.0 C278.1,538.6 284.5,538.6 291.7,537.9 C298.9,537.2 306.1,536.1 313.3,534.7 C320.5,533.3 328.3,531.6 335.0,529.3 C341.7,527.0 346.3,525.2 353.4,521.0 C360.5,516.8 371.3,510.0 377.7,504.0 C384.1,498.0 389.0,489.3 391.9,485.2 C394.8,481.1 394.5,480.1 395.0,479.1"/>
<path class="l" d="M138.1,494.1 L152.3,492.8 M138.1,480.6 L138.1,494.1"/>
<path class="l" d="M205,506.4 L210.4,503.7 L221.2,497 L224.6,495.6 M210.4,503.7 L238.8,518.6 L274.3,521.7 L357.4,487.3 M361.5,489.3 L276,527.1 L274.3,521.7 M160.4,486 L170.6,490.7"/>
<path class="l" style="stroke-width:0.9" d="M361.5,493.3 C359.6,494.7 353.9,499.3 350.0,501.6 C346.1,503.9 341.8,505.5 338.0,507.0 C334.2,508.5 329.2,510.2 327.4,510.8 L325.8,509.2 L316,515.2 L330.1,515.2 L329.6,513.5 L329.6,513.5 C331.3,512.9 336.6,511.4 340.0,510.0 C343.4,508.6 345.8,507.3 350.0,504.9 C354.2,502.5 362.9,497.0 365.5,495.4 Z"/>
<path class="l" d="M226.4,496.4 C228.8,497.2 234.8,500.1 240.6,501.5 C246.3,502.9 254.1,504.0 260.9,504.5 C267.7,505.0 274.4,505.3 281.2,504.5 C288.0,503.7 295.4,501.5 301.5,499.5 C307.6,497.5 313.6,494.8 317.7,492.4 C321.8,490.0 324.4,486.5 325.8,485.3"/>
<path class="l" d="M226.4,495.4 C226.7,493.7 227.5,487.7 228.4,485.3 C229.3,482.9 230.7,482.2 232.0,481.0 C233.3,479.8 235.8,478.6 236.5,478.1"/>
<path class="l" d="M236.5,497.4 C237.2,496.2 239.3,492.0 240.6,490.3 C241.8,488.6 242.7,487.8 244.0,487.0 C245.3,486.2 245.9,486.3 248.7,485.3 C251.5,484.3 256.3,482.1 260.9,481.2 C265.5,480.3 271.0,480.2 276.1,480.2 C281.2,480.2 288.1,480.6 291.3,481.2 C294.5,481.8 294.1,483.0 295.5,484.0 C296.9,485.0 297.9,486.1 299.5,487.3 C301.1,488.5 303.1,490.0 305.0,491.0 C306.9,492.0 309.7,493.0 310.6,493.4"/>
<path class="l" d="M237.5,477.1 L245.7,480.2 L248.7,485.3"/>
<path class="l" d="M301.5,476.1 C303.5,476.8 310.6,478.9 313.7,480.2 C316.8,481.5 318.3,482.8 320.0,484.0 C321.7,485.2 323.2,486.8 323.8,487.3"/>
<path class="l" d="M325.8,485.3 C326.7,484.1 329.6,480.6 331.0,478.0 C332.4,475.4 333.5,471.3 334.0,470.0"/>
<path class="k" d="M140.3,488.0 C140.1,485.4 140.7,483.6 141.5,482.0 C142.3,480.4 143.6,479.3 145.0,478.6 C146.4,477.9 148.5,477.6 150.0,478.0 C151.5,478.4 153.2,479.5 154.0,481.0 C154.8,482.5 155.1,484.8 155.0,487.0 C154.9,489.2 154.2,491.9 153.5,494.0 C152.8,496.1 151.7,498.3 150.5,499.5 C149.3,500.7 147.8,501.3 146.5,501.0 C145.2,500.7 143.5,499.7 142.5,497.5 C141.5,495.3 140.5,490.6 140.3,488.0 Z"/>
<path class="k" d="M239.7,538.5 C240.1,536.8 241.6,534.1 243.0,532.5 C244.4,530.9 246.3,529.6 248.3,528.7 C250.3,527.8 252.8,527.4 255.0,527.0 C257.2,526.6 259.9,526.0 261.7,526.3 C263.5,526.5 265.1,527.5 266.0,528.5 C266.9,529.5 267.2,530.6 267.0,532.4 C266.8,534.1 265.9,537.0 265.0,539.0 C264.1,541.0 263.5,543.2 261.7,544.5 C259.9,545.8 256.4,546.1 254.0,546.5 C251.6,546.9 248.9,547.2 247.0,547.0 C245.1,546.8 243.6,546.2 242.5,545.5 C241.4,544.8 240.8,543.7 240.3,542.5 C239.8,541.3 239.2,540.2 239.7,538.5 Z"/>
<path class="l" d="M205,444.4 L213.5,441 M205,449.1 L211.8,447.1 M205,453.2 L211.5,451.5 M195,454.9 L211.2,448.1 L212.5,452.2 L211.2,470.4 M195,461.7 L209.8,456.9 M210.4,454.5 L210.4,470"/>
<ellipse class="k" cx="209.7" cy="442.4" rx="1.5" ry="0.9"/>
<path class="l" d="M334.2,407.2 L312.6,426.1"/>
</g>
<g id="ring">
<path class="w" d="M212.2,446.7 C212.7,444.7 213.2,442.8 216.2,440.6 C219.2,438.4 224.0,435.9 230.4,433.5 C236.8,431.1 248.7,427.9 254.8,426.4 C260.9,424.9 260.9,424.7 267.0,424.4 C273.1,424.1 284.2,423.7 291.3,424.4 C298.4,425.1 303.9,426.0 309.6,428.4 C315.4,430.8 321.7,434.9 325.8,438.6 C329.9,442.3 332.5,447.3 334.0,450.7 C335.5,454.1 335.7,456.5 335.0,458.9 C334.3,461.3 333.4,462.8 329.9,465.0 C326.3,467.2 319.1,470.0 313.7,472.0 C308.3,474.0 303.8,475.7 297.4,477.1 C291.0,478.5 282.2,479.9 275.1,480.2 C268.0,480.5 261.2,480.2 254.8,479.2 C248.4,478.2 242.2,476.8 236.5,474.1 C230.8,471.4 224.2,466.4 220.3,462.9 C216.4,459.3 214.5,455.5 213.2,452.8 C211.8,450.1 211.7,448.7 212.2,446.7 Z"/>
<path class="w" d="M217.3,447.7 C217.8,446.3 217.8,445.3 220.3,443.6 C222.8,441.9 226.4,439.8 232.5,437.6 C238.6,435.4 250.7,431.9 256.8,430.4 C262.9,428.9 263.2,428.7 269.0,428.4 C274.8,428.1 284.9,427.7 291.3,428.4 C297.7,429.1 302.5,430.3 307.6,432.5 C312.7,434.7 318.2,438.4 321.8,441.6 C325.4,444.8 327.6,448.9 328.9,451.8 C330.2,454.7 330.4,456.9 329.5,458.9 C328.6,460.9 327.1,462.0 323.8,463.9 C320.5,465.8 314.3,468.3 309.6,470.0 C304.9,471.7 301.1,473.1 295.4,474.1 C289.6,475.1 281.5,475.9 275.1,476.1 C268.7,476.3 262.9,476.5 256.8,475.5 C250.7,474.5 244.2,472.4 238.6,470.0 C233.0,467.6 226.9,463.9 223.3,460.9 C219.8,457.9 218.3,454.0 217.3,451.8 C216.3,449.6 216.8,449.1 217.3,447.7 Z"/>
<path class="l" d="M232.5,461.5 C232.8,460.7 233.1,458.1 234.5,456.8 C235.9,455.5 237.9,454.5 241.0,453.5 C244.1,452.5 248.8,451.4 252.8,450.7 C256.8,449.9 260.9,449.4 265.0,449.0 C269.1,448.6 272.9,448.3 277.1,448.3 C281.3,448.3 285.9,448.6 290.0,449.0 C294.1,449.4 297.8,449.9 301.5,450.7 C305.2,451.5 308.9,452.8 312.0,454.0 C315.1,455.2 317.6,456.6 319.8,457.8 C322.0,459.1 324.1,460.9 325.0,461.5"/>
<path class="l" d="M246.7,473.0 C248.1,472.7 251.9,471.5 255.0,471.0 C258.1,470.5 261.3,470.3 265.0,470.0 C268.7,469.7 273.3,469.3 277.1,469.4 C280.9,469.4 284.9,469.9 288.0,470.3 C291.1,470.7 294.2,471.7 295.4,472.0"/>
<path class="l" style="stroke-width:1.2" d="M276.1,461.9 L276.1,475.6 M276.1,480.6 L276.1,482"/>
<path class="l" d="M297.4,477.1 L299.5,488.3 L305.5,483.2 M300.5,476.7 L301.3,486.5"/>
</g>
<g id="posts">
<path class="w" d="M160.4,470 C160.4,466 169,463 180.7,463 C193,463 201,466 201,470 L201,475.2 C199,477 195,478 189.5,478.6 L184.1,486 C180,489.5 175,491 170.6,490.7 C165,490 161.5,488.5 160.4,486 Z"/>
<path class="l" d="M160.4,470 C160.4,474.5 169,477.5 180.7,477.5 C187,477.5 192,476.8 196,475.6"/>
<path class="w" d="M167.5,400 L167.2,470.5 C167.2,473.5 173,475.8 180.7,475.8 C188.5,475.8 194.3,473.5 194.3,470.5 L193.4,400 Z"/>
<path class="w" d="M328.8,436 C328.8,431 338,427.5 349,427.5 C360,427.5 368.7,431.5 368.7,437 L369.4,450 L372,462 L338,462 L336.9,447.8 C333,445 328.8,441 328.8,436 Z"/>
<path class="l" d="M328.8,436 C328.8,442 338,447.1 349.1,447.1 C360,447.1 368.7,443.5 368.7,438.3"/>
<path class="w" d="M334.6,378.2 L334.2,440 C334.2,442.4 340,444 347.5,444 C355,444 360.6,442.4 360.6,440 L360.8,390 L360,360 L347.5,371.8 Z"/>
<path class="l" d="M360.6,408.5 L370.8,413.9 L371.5,426.8 L369.5,437 M371.5,426.8 L378.9,419.4"/>
</g>
<g id="collet">
<path class="k" d="M242.9,413.6 C244,411 245.5,409.5 247.6,408.2 L251.7,404 L289.5,404 L289.5,415.6 L288.2,422.4 C280,423.2 272,423.3 263.8,423 C258,422.6 252.5,422 247.6,421 L242.9,416 Z"/>
<path class="w" style="stroke-width:0.8" d="M242.2,415.6 C243.8,418 245.5,420 247.6,421.7 L255,423 L253,427 L242.2,431.5 Z"/>
<path class="l" style="stroke-width:0.8" d="M244.3,418.5 L244.3,430.6 M246.5,420.8 L246.5,429.7 M249,422 L249,428.7"/>
<path class="wl" style="stroke-width:0.8" d="M250.3,411.5 C251,415 256,417.5 263.8,418.3 C270,418.8 276,418.3 281.4,417 C285,415.8 287.3,414.5 288.2,412.9 M257.5,407.5 C257.5,411 259,413.5 261.1,415.6 C264,417.8 267,418.7 270.6,419 M264.5,406.8 L264.5,415.8 M280.7,406.8 L280.7,416.6 M252,407 L289,406.6"/>
</g>
<path class="w" d="M235.4,383.1 L236.1,396.7 C237,399 238.5,400.5 240.8,401.4 C244,402.5 248,403 251.7,403.4 C258,404.3 264,404.8 270.6,405 C277,405 283.5,404.7 289.5,404.1 C293.5,403.3 297,402.2 300.4,400.7 C302.5,398.2 304.2,395.5 305.8,392.6 C307.5,390.6 309.3,388.8 311.2,387.2 C313.3,385.8 315.5,384.7 318,383.8 C314,383.3 310,383.1 305.8,383.1 L292.2,384.5 C288,385.2 284,385.5 280.1,385.6 L262.5,385.8 L250.3,385.1 C245,384.4 240,383.6 235.4,383.1 Z"/>
<path class="l" d="M237.4,384.5 L238.1,396.7 L240.8,401.4"/>
<path class="k" d="M300.4,401.4 C302.5,398.8 304.2,396.2 305.8,393.3 C307.8,391 310,389 312.5,387.2 C314.5,386 317,385 319.8,384.2 C320.2,386.2 319.8,388 318.6,389.9 C317.3,391.9 315.8,393.7 313.9,395.3 C311.8,397.2 309.6,398.8 307.1,400 C305,401 302.8,401.5 300.4,401.4 Z"/>
<path class="wl" style="stroke-width:0.8" d="M307.6,391.8 L309.6,397.6"/>
<g id="roundknob">
<path class="w" d="M156.5,350 L201.5,350 L201.5,380 L156.5,380 Z"/>
<path class="l" d="M156.5,353 L197.8,353 L197.8,375 M160.3,353 L160.3,372 M167.8,354.5 L189.5,354.5 M167.8,354.5 L167.8,358.5 M189.5,354.5 L189.5,358.5"/>
<path class="k" d="M154.2,379.5 C154.2,363.5 164,356.5 178,357.0 C192,357.5 201.5,367.5 201.5,381.5 L196,397.5 L156,392.5 Z"/>
<path class="wl" style="stroke-width:0.9" d="M155.8,375.9 L157.6,369.9"/>
<path class="wl" style="stroke-width:0.9" d="M158.4,372.2 L160.2,366.2"/>
<path class="wl" style="stroke-width:0.9" d="M161.7,369.1 L163.5,363.1"/>
<path class="wl" style="stroke-width:0.9" d="M165.4,366.7 L167.2,360.7"/>
<path class="wl" style="stroke-width:0.9" d="M169.6,365.1 L171.4,359.1"/>
<path class="wl" style="stroke-width:0.9" d="M174.0,364.3 L175.8,358.3"/>
<path class="wl" style="stroke-width:0.9" d="M178.4,364.3 L180.2,358.3"/>
<path class="wl" style="stroke-width:0.9" d="M182.8,365.2 L184.6,359.2"/>
<path class="wl" style="stroke-width:0.9" d="M186.9,366.9 L188.7,360.9"/>
<path class="wl" style="stroke-width:0.9" d="M190.7,369.4 L192.5,363.4"/>
<path class="wl" style="stroke-width:0.9" d="M193.8,372.5 L195.6,366.5"/>
<path class="wl" style="stroke-width:0.9" d="M196.4,376.2 L198.2,370.2"/>
<path class="wl" style="stroke-width:0.9" d="M198.2,380.3 L200.0,374.3"/>
<path class="k" d="M200.0,387.5 L199.3,388.9 L198.4,390.2 L198.9,391.7 L199.3,393.2 L198.2,394.4 L197.1,395.5 L197.2,397.1 L197.3,398.7 L195.9,399.6 L194.6,400.3 L194.3,401.9 L194.0,403.4 L192.5,404.0 L191.0,404.4 L190.4,405.8 L189.6,407.3 L188.1,407.4 L186.5,407.5 L185.6,408.7 L184.5,409.9 L182.9,409.7 L181.4,409.4 L180.2,410.4 L178.9,411.3 L177.4,410.8 L176.0,410.1 L174.6,410.8 L173.1,411.3 L171.8,410.4 L170.6,409.4 L169.1,409.7 L167.5,409.9 L166.4,408.7 L165.5,407.5 L163.9,407.4 L162.4,407.3 L161.6,405.8 L161.0,404.4 L159.5,404.0 L158.0,403.4 L157.7,401.9 L157.4,400.3 L156.1,399.6 L154.7,398.7 L154.8,397.1 L154.9,395.5 L153.8,394.4 L152.7,393.2 L153.1,391.7 L153.6,390.2 L152.7,388.9 L152.0,387.5 L152.7,386.1 L153.6,384.8 L153.1,383.3 L152.7,381.8 L153.8,380.6 L154.9,379.5 L154.8,377.9 L154.7,376.3 L156.1,375.4 L157.4,374.7 L157.7,373.1 L158.0,371.6 L159.5,371.0 L161.0,370.6 L161.6,369.2 L162.4,367.7 L163.9,367.6 L165.5,367.5 L166.4,366.3 L167.5,365.1 L169.1,365.3 L170.6,365.6 L171.8,364.6 L173.1,363.7 L174.6,364.2 L176.0,364.9 L177.4,364.2 L178.9,363.7 L180.2,364.6 L181.4,365.6 L182.9,365.3 L184.5,365.1 L185.6,366.3 L186.5,367.5 L188.1,367.6 L189.6,367.7 L190.4,369.2 L191.0,370.6 L192.5,371.0 L194.0,371.6 L194.3,373.1 L194.6,374.7 L195.9,375.4 L197.3,376.3 L197.2,377.9 L197.1,379.5 L198.2,380.6 L199.3,381.8 L198.9,383.3 L198.4,384.8 L199.3,386.1 Z"/>
<path class="wl" style="stroke-width:0.8" d="M152.7,384.5 A23.8,23.8 0 0 1 199.0,382.5"/>
<circle class="wl" cx="176" cy="387.5" r="16.3" style="stroke-width:1.1"/>
</g>
<g id="rightknob">
<path class="k" d="M342.0,460.3 A23.5,9.5 0 0 1 389.0,460.3 L387.8,475.0 A22.3,9.5 0 0 1 342.6,475.0 Z"/>
<ellipse class="wl" cx="364.7" cy="459.3" rx="15.7" ry="6.8" style="stroke-width:0.9"/>
<path d="M342.3,462.5 L342.7,475.7" stroke="#fff" stroke-width="0.9" fill="none"/>
<path d="M343.2,464.1 L343.7,477.3" stroke="#fff" stroke-width="0.9" fill="none"/>
<path d="M344.9,465.7 L345.3,478.9" stroke="#fff" stroke-width="0.9" fill="none"/>
<path d="M347.2,467.1 L347.6,480.3" stroke="#fff" stroke-width="0.9" fill="none"/>
<path d="M350.1,468.3 L350.5,481.5" stroke="#fff" stroke-width="0.9" fill="none"/>
<path d="M353.5,469.3 L353.8,482.5" stroke="#fff" stroke-width="0.9" fill="none"/>
<path d="M357.3,470.0 L357.5,483.2" stroke="#fff" stroke-width="0.9" fill="none"/>
<path d="M361.3,470.4 L361.4,483.6" stroke="#fff" stroke-width="0.9" fill="none"/>
<path d="M365.5,470.6 L365.5,483.8" stroke="#fff" stroke-width="0.9" fill="none"/>
<path d="M369.7,470.4 L369.6,483.6" stroke="#fff" stroke-width="0.9" fill="none"/>
<path d="M373.7,470.0 L373.5,483.2" stroke="#fff" stroke-width="0.9" fill="none"/>
<path d="M377.5,469.3 L377.2,482.5" stroke="#fff" stroke-width="0.9" fill="none"/>
<path d="M380.9,468.3 L380.5,481.5" stroke="#fff" stroke-width="0.9" fill="none"/>
<path d="M383.8,467.1 L383.4,480.3" stroke="#fff" stroke-width="0.9" fill="none"/>
<path d="M386.1,465.7 L385.7,478.9" stroke="#fff" stroke-width="0.9" fill="none"/>
<path d="M387.8,464.1 L387.3,477.3" stroke="#fff" stroke-width="0.9" fill="none"/>
<path d="M388.7,462.5 L388.3,475.7" stroke="#fff" stroke-width="0.9" fill="none"/>
<path class="l" style="stroke-width:0.8" d="M389.0,463.3 C393.0,466.3 395.0,472.3 395.5,479.3"/>
</g>
<g id="turret">
<path class="w" d="M361.1,385 L362.8,382.6 L377,371.5 C378.3,370.7 379.5,370.8 380.3,371.8 L401.3,397.9 L371,425.9 L371.6,413.1 L361.1,400.3 Z"/>
<path class="w" style="stroke-width:0.8" d="M370.7,400.8 L365.4,383.6 A1.75,1.75 0 0 0 362.0,384.6 L367.3,401.8 Z"/>
<path class="w" style="stroke-width:0.8" d="M376.0,396.5 L370.4,379.4 A1.75,1.75 0 0 0 367.1,380.5 L372.6,397.5 Z"/>
<path class="w" style="stroke-width:0.8" d="M381.4,391.6 L375.3,375.4 A1.75,1.75 0 0 0 372.0,376.7 L378.2,392.8 Z"/>
<path class="w" style="stroke-width:0.8" d="M386.4,386.4 L379.7,372.4 A1.75,1.75 0 0 0 376.6,373.9 L383.2,388.0 Z"/>
<path class="l" style="stroke-width:0.8" d="M361.1,391 L366.5,403 L368.8,401.5 M361.1,396.5 L364.5,404"/>
<circle cx="380.1" cy="417.2" r="1.1" fill="#fff" stroke="#1d1d1b" stroke-width="0.7"/>
<circle cx="385.6" cy="412.7" r="1.1" fill="#fff" stroke="#1d1d1b" stroke-width="0.7"/>
<circle cx="391.1" cy="407.8" r="1.1" fill="#fff" stroke="#1d1d1b" stroke-width="0.7"/>
<circle cx="396.1" cy="404.1" r="1.1" fill="#fff" stroke="#1d1d1b" stroke-width="0.7"/>
<path class="l" style="stroke-width:0.7" d="M378.3,418.8 L397.8,402.6"/>
</g>
<g id="lturret">
<path class="w" d="M181.4,499.5 L182.1,504.3 C184,507.5 187,509.5 190.9,510.4 L201.7,510.4 C204.5,509 206.5,507 208.5,505 L220.7,496.8 L219.3,471.1 L212,469.5 L203.1,472.5 L201.7,479.2 L189.5,480.6 C186.5,482 185,484 184.1,486 C182.5,490 181.6,495 181.4,499.5 Z"/>
<path class="l" style="stroke-width:0.8" d="M181.4,499.5 C185,502.5 190,504 196,504 C201,503.8 205.5,502.5 208.5,500.5 L220.7,492 M185.5,503v4.2 M188.5,504v5 M191.5,504.3v5.6 M194.5,504.5v5.8 M197.5,504.5v5.8 M200.5,504.2v5.8 M203.5,503.5v5.2"/>
<ellipse class="k" cx="201" cy="492.1" rx="7.2" ry="4.2"/>
<path d="M199.2,491.5 l1.2,-0.2 l0.5,-1 l0.6,1 l1.2,0.1 l-0.9,0.8 l0.3,1.1 l-1.1,-0.6 l-1.1,0.6 l0.3,-1.1 z" fill="#fff"/>
<path class="l" style="stroke-width:0.8" d="M209.5,474 L210.6,494.5 M212.5,473 L214,492.8 M216.3,473 L217.5,490.5 M184.1,486 C187,484.5 190,486 191.5,489.5 M189.5,480.6 C192,481.5 194,484 194.5,488"/>
<path class="k" d="M190.5,477 L197.2,475.6 L198,478.8 L191.2,480.4 Z M204,470.5 L207,469.3 L208.5,472 L211,471.4 L210.8,473.6 L204.4,474.6 Z M212,470 L218.8,469.5 L219.2,473 L213,474 Z"/>
</g>
</g>
</svg>
</body></html>
